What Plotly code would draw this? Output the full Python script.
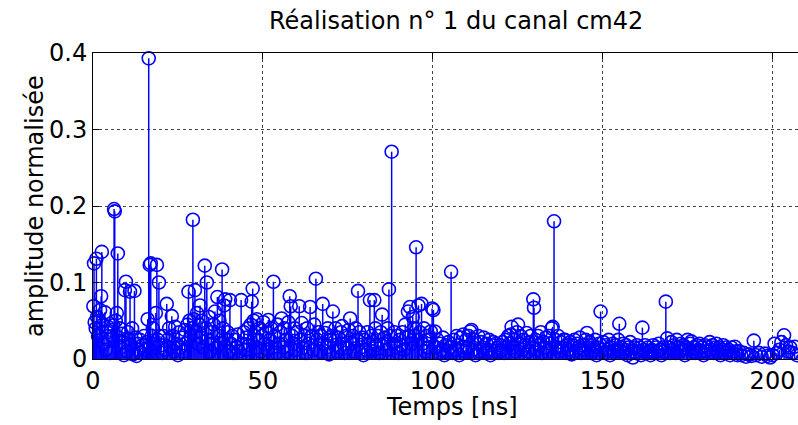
import plotly.graph_objects as go

# ---- data ----
time_ns = [
    # 0-10 ns
    0.1, 0.3, 0.5, 0.8, 1.0, 1.2, 1.5, 1.8, 2.1, 2.4, 2.6, 2.9, 3.2, 3.5, 3.8, 4.1, 4.4, 4.7,
    5.0, 5.3, 5.6, 5.9, 6.2, 6.4, 6.7, 7.0, 7.3, 7.6, 7.9, 8.2, 8.5, 8.8, 9.1, 9.4, 9.7,
    # 10-20 ns
    10.0, 10.3, 10.6, 10.9, 11.2, 11.5, 11.8, 12.2, 12.5, 12.8, 13.1, 13.4, 13.8, 14.2, 14.6,
    15.0, 15.4, 15.8, 16.1, 16.4, 16.7, 17.0, 17.3, 17.6, 17.9, 18.2, 18.5, 18.8, 19.1, 19.4, 19.7,
    # 20-30 ns
    20.0, 20.4, 20.8, 21.2, 21.7, 22.0, 22.4, 22.8, 23.2, 23.5, 23.9, 24.2, 24.6, 25.0, 25.4,
    25.8, 26.2, 26.6, 27.0, 27.4, 27.8, 28.1, 28.4, 28.7, 29.0, 29.4, 29.7, 30.0,
    # 30-40 ns
    30.3, 30.6, 30.9, 31.2, 31.5, 31.8, 32.1, 32.5, 32.9, 33.2, 33.5, 33.8, 34.1, 34.4, 34.8,
    35.1, 35.5, 35.9, 36.2, 36.6, 36.9, 37.2, 37.6, 38.0, 38.3, 38.6, 38.9, 39.2, 39.6, 39.9,
    # 40-50 ns
    40.3, 40.6, 41.0, 41.4, 41.8, 42.2, 42.6, 43.0, 43.6, 44.0, 44.4, 44.8, 45.2, 45.6, 46.0,
    46.4, 46.7, 47.0, 47.3, 47.6, 48.0, 48.2, 48.6, 49.0, 49.4, 49.8,
    # 50-60 ns
    50.2, 50.6, 51.0, 51.3, 51.6, 52.0, 52.4, 52.7, 53.1, 53.5, 53.9, 54.3, 54.7, 55.1, 55.5,
    55.9, 56.3, 56.7, 57.1, 57.5, 57.9, 58.2, 58.6, 59.0, 59.4, 59.8,
    # 60-70 ns
    60.2, 60.7, 61.0, 61.4, 61.8, 62.2, 62.6, 63.0, 63.4, 63.9, 64.3, 64.7, 65.1, 65.6, 66.0,
    66.4, 66.8, 67.2, 67.6, 68.0, 68.3, 68.7, 69.1, 69.5, 69.9,
    # 70-80 ns
    70.3, 70.6, 71.0, 71.4, 71.8, 72.2, 72.6, 73.0, 73.3, 73.7, 74.1, 74.5, 74.9, 75.3, 75.7,
    76.1, 76.5, 76.9, 77.3, 77.6, 78.0, 78.4, 78.8, 79.2, 79.6,
    # 80-90 ns
    80.0, 80.4, 80.8, 81.2, 81.5, 81.9, 82.3, 82.8, 83.1, 83.5, 83.9, 84.3, 84.7, 85.1, 85.5,
    85.9, 86.3, 86.7, 87.1, 87.5, 87.9, 88.3, 88.7, 89.1, 89.5, 89.9,
    # 90-100 ns
    90.3, 90.7, 91.1, 91.5, 91.9, 92.3, 92.7, 93.1, 93.3, 93.7, 94.1, 94.5, 94.8, 95.1, 95.5,
    95.8, 96.2, 96.7, 97.0, 97.4, 97.8, 98.2, 98.6, 99.0, 99.4, 99.8, 100.2,
    # 100-110 ns
    100.6, 101.0, 101.4, 101.8, 102.2, 102.6, 103.0, 103.4, 103.8, 104.2, 104.6, 105.0, 105.4,
    105.8, 106.2, 106.6, 107.0, 107.4, 107.8, 108.2, 108.6, 109.0, 109.4, 109.8,
    # 110-120 ns
    110.2, 110.6, 111.0, 111.4, 111.8, 112.2, 112.6, 113.0, 113.4, 113.8, 114.2, 114.6, 115.0,
    115.4, 115.8, 116.2, 116.6, 117.0, 117.4, 117.8, 118.2, 118.6, 119.0, 119.4, 119.8,
    # 120-130 ns
    120.2, 120.6, 121.0, 121.4, 121.8, 122.2, 122.6, 123.0, 123.2, 123.6, 124.0, 124.4, 124.8,
    125.1, 125.5, 125.9, 126.3, 126.7, 127.1, 127.6, 128.0, 128.4, 128.8, 129.2, 129.6, 129.8,
    # 130-140 ns
    130.2, 130.6, 131.0, 131.4, 131.8, 132.2, 132.6, 133.0, 133.4, 133.8, 134.2, 134.6, 135.0,
    135.3, 135.7, 136.1, 136.5, 136.9, 137.3, 137.7, 138.1, 138.5, 138.9, 139.3, 139.7,
    # 140-150 ns
    140.1, 140.5, 140.9, 141.3, 141.7, 142.1, 142.5, 142.9, 143.3, 143.7, 144.1, 144.5, 145.0,
    145.4, 145.8, 146.2, 146.6, 147.0, 147.4, 147.8, 148.2, 148.6, 149.0, 149.4, 149.8,
    # 150-160 ns
    150.2, 150.6, 151.0, 151.4, 151.8, 152.2, 152.6, 153.0, 153.4, 153.8, 154.2, 154.6, 154.9,
    155.3, 155.7, 156.1, 156.5, 156.9, 157.3, 157.7, 158.1, 158.5, 158.9, 159.3, 159.7,
    # 160-170 ns
    160.1, 160.5, 160.9, 161.3, 161.7, 162.1, 162.5, 162.9, 163.3, 163.7, 164.1, 164.5, 164.9,
    165.3, 165.7, 166.1, 166.5, 166.9, 167.3, 167.7, 168.1, 168.6, 169.0, 169.4, 169.8,
    # 170-180 ns
    170.2, 170.6, 171.0, 171.4, 171.8, 172.2, 172.6, 173.0, 173.4, 173.8, 174.2, 174.6, 175.0,
    175.4, 175.8, 176.1, 176.5, 176.9, 177.3, 177.7, 178.1, 178.5, 178.9, 179.3, 179.7,
    # 180-190 ns
    180.1, 180.5, 180.9, 181.5, 181.9, 182.3, 182.7, 183.1, 183.5, 183.9, 184.3, 184.7, 185.1,
    185.5, 185.9, 186.3, 186.7, 187.1, 187.5, 187.9, 188.3, 188.9, 189.3, 189.7,
    # 190-207 ns
    190.2, 190.8, 191.5, 192.2, 193.0, 193.8, 194.5, 195.2, 196.0, 196.8, 197.7, 198.5, 199.3,
    200.0, 200.6, 201.3, 202.0, 202.6, 203.4, 204.0, 204.6, 205.2, 205.8, 206.5, 207.2,
]

amplitude = [
    # 0-10 ns
    0.069, 0.125, 0.048, 0.040, 0.131, 0.055, 0.030, 0.050, 0.064, 0.082, 0.140, 0.045, 0.020, 0.061, 0.012, 0.035, 0.042, 0.025,
    0.008, 0.038, 0.030, 0.044, 0.196, 0.193, 0.050, 0.060, 0.138, 0.028, 0.040, 0.015, 0.033, 0.022, 0.005, 0.090, 0.101,
    # 10-20 ns
    0.010, 0.035, 0.026, 0.088, 0.018, 0.040, 0.006, 0.089, 0.028, 0.004, 0.020, 0.012, 0.025, 0.008, 0.018,
    0.030, 0.012, 0.022, 0.052, 0.393, 0.123, 0.125, 0.030, 0.040, 0.020, 0.015, 0.060, 0.123, 0.025, 0.100, 0.030,
    # 20-30 ns
    0.018, 0.008, 0.030, 0.012, 0.072, 0.025, 0.040, 0.015, 0.056, 0.030, 0.010, 0.042, 0.020, 0.005, 0.035,
    0.015, 0.028, 0.010, 0.038, 0.020, 0.045, 0.088, 0.050, 0.030, 0.040, 0.182, 0.052, 0.090,
    # 30-40 ns
    0.035, 0.060, 0.020, 0.045, 0.070, 0.028, 0.050, 0.015, 0.122, 0.040, 0.100, 0.025, 0.055, 0.010, 0.035,
    0.020, 0.045, 0.062, 0.015, 0.081, 0.030, 0.050, 0.020, 0.117, 0.040, 0.070, 0.078, 0.025, 0.035, 0.010,
    # 40-50 ns
    0.077, 0.020, 0.030, 0.008, 0.025, 0.015, 0.032, 0.010, 0.077, 0.020, 0.035, 0.012, 0.028, 0.040, 0.018,
    0.045, 0.075, 0.092, 0.050, 0.030, 0.015, 0.052, 0.025, 0.040, 0.010, 0.030,
    # 50-60 ns
    0.048, 0.020, 0.035, 0.012, 0.051, 0.025, 0.040, 0.015, 0.101, 0.030, 0.008, 0.045, 0.020, 0.035, 0.053,
    0.015, 0.040, 0.025, 0.010, 0.048, 0.082, 0.069, 0.030, 0.020, 0.040, 0.012,
    # 60-70 ns
    0.035, 0.069, 0.025, 0.047, 0.015, 0.030, 0.008, 0.040, 0.020, 0.068, 0.030, 0.012, 0.045, 0.105, 0.025,
    0.035, 0.010, 0.030, 0.072, 0.020, 0.034, 0.015, 0.040, 0.006, 0.025,
    # 70-80 ns
    0.030, 0.062, 0.018, 0.040, 0.010, 0.028, 0.015, 0.035, 0.043, 0.020, 0.008, 0.030, 0.015, 0.038, 0.053,
    0.020, 0.030, 0.010, 0.040, 0.025, 0.089, 0.035, 0.015, 0.028, 0.005,
    # 80-90 ns
    0.025, 0.012, 0.035, 0.020, 0.077, 0.030, 0.010, 0.077, 0.040, 0.018, 0.030, 0.008, 0.035, 0.058, 0.020,
    0.028, 0.012, 0.040, 0.091, 0.030, 0.271, 0.020, 0.035, 0.015, 0.030, 0.008,
    # 90-100 ns
    0.025, 0.018, 0.035, 0.012, 0.045, 0.028, 0.062, 0.030, 0.068, 0.020, 0.055, 0.040, 0.030, 0.146, 0.025,
    0.070, 0.035, 0.072, 0.020, 0.040, 0.010, 0.030, 0.015, 0.025, 0.036, 0.066, 0.064,
    # 100-110 ns
    0.036, 0.015, 0.025, 0.008, 0.020, 0.012, 0.028, 0.005, 0.018, 0.010, 0.022, 0.015, 0.114,
    0.008, 0.025, 0.012, 0.030, 0.018, 0.005, 0.028, 0.015, 0.032, 0.010, 0.025,
    # 110-120 ns
    0.015, 0.030, 0.036, 0.038, 0.012, 0.025, 0.005, 0.020, 0.030, 0.010, 0.022, 0.015, 0.028,
    0.008, 0.020, 0.012, 0.025, 0.005, 0.018, 0.022, 0.010, 0.020, 0.015, 0.008, 0.018,
    # 120-130 ns
    0.012, 0.022, 0.008, 0.025, 0.015, 0.030, 0.020, 0.032, 0.042, 0.015, 0.025, 0.010, 0.035,
    0.045, 0.020, 0.030, 0.012, 0.025, 0.018, 0.034, 0.010, 0.022, 0.030, 0.015, 0.078, 0.067,
    # 130-140 ns
    0.025, 0.012, 0.030, 0.018, 0.035, 0.008, 0.022, 0.015, 0.028, 0.010, 0.030, 0.020, 0.040,
    0.042, 0.180, 0.025, 0.015, 0.030, 0.010, 0.022, 0.015, 0.025, 0.025, 0.008, 0.018,
    # 140-150 ns
    0.012, 0.022, 0.006, 0.018, 0.025, 0.010, 0.020, 0.015, 0.028, 0.008, 0.018, 0.012, 0.025,
    0.034, 0.015, 0.022, 0.008, 0.018, 0.012, 0.025, 0.005, 0.015, 0.020, 0.062, 0.012,
    # 150-160 ns
    0.022, 0.008, 0.018, 0.012, 0.025, 0.005, 0.015, 0.020, 0.010, 0.018, 0.012, 0.025, 0.046,
    0.015, 0.008, 0.020, 0.012, 0.018, 0.005, 0.015, 0.022, 0.010, 0.002, 0.015, 0.008,
    # 160-170 ns
    0.018, 0.010, 0.015, 0.005, 0.041, 0.012, 0.018, 0.008, 0.015, 0.010, 0.005, 0.012, 0.018,
    0.008, 0.015, 0.010, 0.020, 0.012, 0.005, 0.015, 0.010, 0.075, 0.027, 0.015, 0.008,
    # 170-180 ns
    0.022, 0.012, 0.018, 0.008, 0.025, 0.015, 0.010, 0.020, 0.012, 0.018, 0.005, 0.015, 0.025,
    0.012, 0.020, 0.023, 0.010, 0.015, 0.008, 0.018, 0.012, 0.020, 0.010, 0.015, 0.005,
    # 180-190 ns
    0.018, 0.010, 0.015, 0.022, 0.012, 0.018, 0.008, 0.015, 0.020, 0.010, 0.015, 0.005, 0.012,
    0.018, 0.008, 0.015, 0.010, 0.012, 0.005, 0.015, 0.008, 0.016, 0.010, 0.005,
    # 190-207 ns
    0.010, 0.005, 0.008, 0.003, 0.006, 0.004, 0.024, 0.005, 0.008, 0.003, 0.007, 0.004, 0.002,
    0.005, 0.020, 0.008, 0.012, 0.022, 0.031, 0.018, 0.010, 0.015, 0.008, 0.016, 0.005,
]

assert len(time_ns) == len(amplitude), (len(time_ns), len(amplitude))

x_ticks = [0, 50, 100, 150, 200]
y_ticks = [0, 0.1, 0.2, 0.3, 0.4]
y_tick_text = ["0", "0.1", "0.2", "0.3", "0.4"]

title_text = "Réalisation n° 1 du canal cm42"
x_title = "Temps [ns]"
y_title = "amplitude normalisée"

BLUE = "#0000FF"
FONT = "DejaVu Sans"
W, H = 798, 425
L, R, T, B = 93, 0, 53, 66

# stems built from the data through the axes
stem_x, stem_y = [], []
for t, a in zip(time_ns, amplitude):
    stem_x += [t, t, None]
    stem_y += [0, a, None]

fig = go.Figure()
fig.add_trace(go.Scatter(x=stem_x, y=stem_y, mode="lines",
                         line=dict(color=BLUE, width=1.5),
                         hoverinfo="skip", showlegend=False))
fig.add_trace(go.Scatter(x=time_ns, y=amplitude, mode="markers",
                         marker=dict(symbol="circle-open", size=13, color=BLUE,
                                     line=dict(color=BLUE, width=1.6)),
                         cliponaxis=False, showlegend=False))


def to_plot(px_x, px_y):
    """figure pixel position -> plot-area paper coordinates"""
    return (px_x - L) / (W - L - R), 1 - (px_y - T) / (H - T - B)


tx, ty = to_plot(456, 21)
xx, xy = to_plot(452, 407)
yx, yy = to_plot(35, 206)

fig.update_layout(
    width=W, height=H,
    margin=dict(l=L, r=R, t=T, b=B, autoexpand=False),
    paper_bgcolor="white", plot_bgcolor="white",
    font=dict(family=FONT, size=24, color="black"),
    annotations=[
        dict(text=title_text, x=tx, y=ty, xref="paper", yref="paper",
             xanchor="center", yanchor="middle", showarrow=False,
             font=dict(family=FONT, size=24, color="black")),
        dict(text=x_title, x=xx, y=xy, xref="paper", yref="paper",
             xanchor="center", yanchor="middle", showarrow=False,
             font=dict(family=FONT, size=24, color="black")),
        dict(text=y_title, x=yx, y=yy, xref="paper", yref="paper",
             xanchor="center", yanchor="middle", showarrow=False, textangle=-90,
             font=dict(family=FONT, size=24, color="black")),
    ],
)

fig.update_xaxes(
    range=[0, 207.5], tickvals=x_ticks, ticks="inside", ticklen=6, tickcolor="black",
    showline=True, linecolor="black", linewidth=1, mirror="ticks", automargin=False,
    showgrid=True, gridcolor="#444444", griddash="dot", gridwidth=1, zeroline=False,
    tickfont=dict(size=24),
)
fig.update_yaxes(
    range=[0, 0.4], tickvals=y_ticks, ticktext=y_tick_text, ticks="inside", ticklen=6,
    tickcolor="black", showline=True, linecolor="black", linewidth=1, mirror=False,
    automargin=False,
    showgrid=True, gridcolor="#444444", griddash="dot", gridwidth=1, zeroline=False,
    tickfont=dict(size=24),
)

fig.write_html("out.html", config={"displayModeBar": False},
               post_script="document.body.style.margin='0';document.body.style.overflow='hidden';")
